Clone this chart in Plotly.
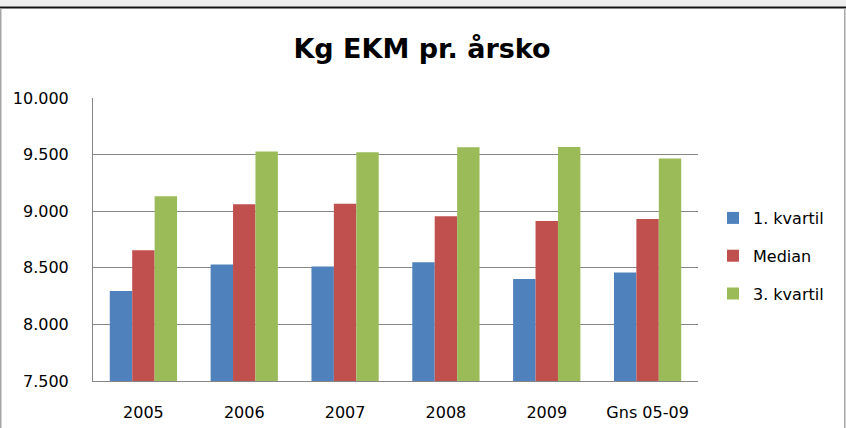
import plotly.graph_objects as go

categories = ["2005", "2006", "2007", "2008", "2009", "Gns 05-09"]
series_names = ["1. kvartil", "Median", "3. kvartil"]
kvartil1 = [8295, 8530, 8512, 8548, 8400, 8459]
median = [8654, 9061, 9066, 8955, 8913, 8931]
kvartil3 = [9132, 9527, 9521, 9565, 9568, 9465]
colors = ["#4F81BD", "#C0504D", "#9BBB59"]
y_ticks = [7500, 8000, 8500, 9000, 9500, 10000]

W, H = 846, 428
L, R, T, B = 93, 698, 98, 381
pw, ph = R - L, B - T

def px(x):
    return (x - L) / pw

def py(y):
    return (B - y) / ph

fig = go.Figure()
for i, (name, vals) in enumerate(zip(series_names, [kvartil1, median, kvartil3])):
    fig.add_trace(go.Bar(
        x=categories, y=vals, name=name,
        marker=dict(color=colors[i], line=dict(width=0)),
        legendgroup=name,
    ))

shapes = [
    dict(type="rect", xref="paper", yref="paper", x0=px(0), x1=px(W), y0=py(6.5), y1=py(0),
         fillcolor="#EEEEEE", line=dict(width=0), layer="above"),
    dict(type="line", xref="paper", yref="paper", x0=px(0), x1=px(W), y0=py(7.5), y1=py(7.5),
         line=dict(color="#111111", width=2), layer="above"),
    dict(type="line", xref="paper", yref="paper", x0=px(0.75), x1=px(0.75), y0=py(8.5), y1=py(H),
         line=dict(color="#A6A6A6", width=1.5), layer="above"),
    dict(type="line", xref="paper", yref="paper", x0=px(844.75), x1=px(844.75), y0=py(8.5), y1=py(H),
         line=dict(color="#A6A6A6", width=1.5), layer="above"),
]

fig.update_layout(
    width=W, height=H, autosize=False,
    margin=dict(l=L, r=W - R, t=T, b=H - B, pad=0, autoexpand=False),
    paper_bgcolor="white", plot_bgcolor="white",
    separators=",.",
    font=dict(family="DejaVu Sans", color="#000000", size=16),
    title=dict(text="<b>Kg EKM pr. årsko</b>", x=422 / W, xanchor="center", xref="container",
               y=1 - 49 / H, yanchor="middle", yref="container", automargin=False,
               font=dict(family="DejaVu Sans", size=27, color="#000000")),
    barmode="group", bargap=0.333, bargroupgap=0,
    xaxis=dict(showgrid=False, showline=True, linecolor="#868686", linewidth=1,
               ticks="", tickfont=dict(size=16), fixedrange=True, ticklabelstandoff=17,
               automargin=False),
    yaxis=dict(range=[7500, 10000], tickvals=y_ticks, tickformat=",d",
               showgrid=True, gridcolor="#868686", gridwidth=1,
               showline=True, linecolor="#868686", linewidth=1,
               ticks="", ticklabelstandoff=20, tickfont=dict(size=16), zeroline=False,
               automargin=False),
    legend=dict(x=px(713), xanchor="left", y=py(201), yanchor="top",
                font=dict(size=16), tracegroupgap=14, itemwidth=30,
                bgcolor="rgba(0,0,0,0)"),
    shapes=shapes,
    showlegend=True,
)

fig.write_html("out.html", config={"displayModeBar": False},
               post_script="document.body.style.margin='0';document.body.style.overflow='hidden';")
